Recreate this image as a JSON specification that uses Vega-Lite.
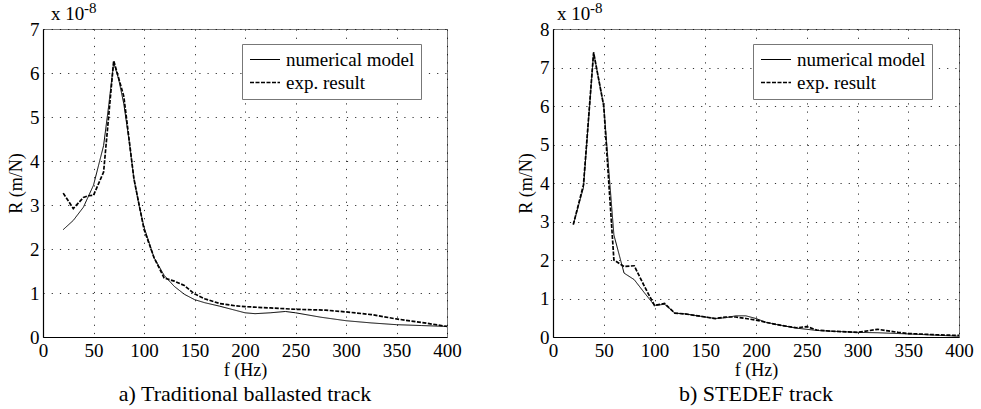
{
  "$schema": "https://vega.github.io/schema/vega-lite/v6.json",
  "background": "white",
  "padding": {"left": 7, "top": 0, "right": 0, "bottom": 0},
  "spacing": 55,
  "config": {
    "font": "Liberation Serif, Times New Roman, serif",
    "view": {"stroke": "#777", "strokeWidth": 1},
    "axis": {
      "labelFont": "Liberation Serif, Times New Roman, serif", "labelFontSize": 19, "labelColor": "black",
      "titleFont": "Liberation Serif, Times New Roman, serif", "titleFontSize": 18, "titleFontWeight": "normal", "titleColor": "black",
      "domainColor": "black", "domainWidth": 1.2,
      "ticks": false, "labelPadding": 4, "labelFlush": false, "labelOverlap": false,
      "grid": true, "gridColor": "black", "gridDash": [1.2, 7], "gridWidth": 1, "gridOpacity": 0.8
    },
    "legend": {
      "orient": "none", "legendY": 15,
      "labelFont": "Liberation Serif, Times New Roman, serif", "labelFontSize": 19, "labelColor": "black",
      "symbolType": "M-1,0H3", "symbolSize": 225, "symbolStrokeColor": "black", "symbolFillColor": "transparent",
      "strokeColor": "#777", "fillColor": "white", "padding": 6, "rowPadding": 3,
      "labelOffset": 19, "title": null
    },
    "title": {"font": "Liberation Serif, Times New Roman, serif", "fontSize": 22, "fontWeight": "normal", "color": "black", "orient": "bottom", "offset": 5}
  },
  "datasets": {
    "a": [
      {"f": 20, "R": 2.44, "series": "numerical model"},
      {"f": 30, "R": 2.65, "series": "numerical model"},
      {"f": 40, "R": 2.95, "series": "numerical model"},
      {"f": 50, "R": 3.45, "series": "numerical model"},
      {"f": 55, "R": 3.9, "series": "numerical model"},
      {"f": 60, "R": 4.35, "series": "numerical model"},
      {"f": 65, "R": 5.25, "series": "numerical model"},
      {"f": 70, "R": 6.24, "series": "numerical model"},
      {"f": 75, "R": 5.85, "series": "numerical model"},
      {"f": 80, "R": 5.3, "series": "numerical model"},
      {"f": 85, "R": 4.5, "series": "numerical model"},
      {"f": 90, "R": 3.6, "series": "numerical model"},
      {"f": 95, "R": 3.0, "series": "numerical model"},
      {"f": 100, "R": 2.5, "series": "numerical model"},
      {"f": 110, "R": 1.8, "series": "numerical model"},
      {"f": 120, "R": 1.4, "series": "numerical model"},
      {"f": 130, "R": 1.15, "series": "numerical model"},
      {"f": 140, "R": 0.97, "series": "numerical model"},
      {"f": 150, "R": 0.85, "series": "numerical model"},
      {"f": 160, "R": 0.78, "series": "numerical model"},
      {"f": 175, "R": 0.7, "series": "numerical model"},
      {"f": 190, "R": 0.61, "series": "numerical model"},
      {"f": 200, "R": 0.55, "series": "numerical model"},
      {"f": 210, "R": 0.53, "series": "numerical model"},
      {"f": 225, "R": 0.55, "series": "numerical model"},
      {"f": 240, "R": 0.58, "series": "numerical model"},
      {"f": 250, "R": 0.55, "series": "numerical model"},
      {"f": 275, "R": 0.45, "series": "numerical model"},
      {"f": 300, "R": 0.37, "series": "numerical model"},
      {"f": 325, "R": 0.32, "series": "numerical model"},
      {"f": 350, "R": 0.28, "series": "numerical model"},
      {"f": 375, "R": 0.26, "series": "numerical model"},
      {"f": 400, "R": 0.24, "series": "numerical model"},
      {"f": 20, "R": 3.27, "series": "exp. result"},
      {"f": 30, "R": 2.92, "series": "exp. result"},
      {"f": 40, "R": 3.17, "series": "exp. result"},
      {"f": 45, "R": 3.21, "series": "exp. result"},
      {"f": 50, "R": 3.22, "series": "exp. result"},
      {"f": 60, "R": 3.75, "series": "exp. result"},
      {"f": 70, "R": 6.28, "series": "exp. result"},
      {"f": 80, "R": 5.47, "series": "exp. result"},
      {"f": 90, "R": 3.6, "series": "exp. result"},
      {"f": 100, "R": 2.45, "series": "exp. result"},
      {"f": 110, "R": 1.8, "series": "exp. result"},
      {"f": 120, "R": 1.34, "series": "exp. result"},
      {"f": 130, "R": 1.27, "series": "exp. result"},
      {"f": 140, "R": 1.17, "series": "exp. result"},
      {"f": 150, "R": 0.98, "series": "exp. result"},
      {"f": 160, "R": 0.87, "series": "exp. result"},
      {"f": 175, "R": 0.76, "series": "exp. result"},
      {"f": 190, "R": 0.71, "series": "exp. result"},
      {"f": 200, "R": 0.69, "series": "exp. result"},
      {"f": 225, "R": 0.66, "series": "exp. result"},
      {"f": 250, "R": 0.63, "series": "exp. result"},
      {"f": 280, "R": 0.61, "series": "exp. result"},
      {"f": 300, "R": 0.57, "series": "exp. result"},
      {"f": 325, "R": 0.51, "series": "exp. result"},
      {"f": 350, "R": 0.41, "series": "exp. result"},
      {"f": 375, "R": 0.33, "series": "exp. result"},
      {"f": 400, "R": 0.24, "series": "exp. result"}
    ],
    "b": [
      {"f": 20, "R": 2.92, "series": "numerical model"},
      {"f": 30, "R": 3.88, "series": "numerical model"},
      {"f": 40, "R": 7.39, "series": "numerical model"},
      {"f": 50, "R": 6.0, "series": "numerical model"},
      {"f": 60, "R": 2.65, "series": "numerical model"},
      {"f": 70, "R": 1.66, "series": "numerical model"},
      {"f": 80, "R": 1.49, "series": "numerical model"},
      {"f": 90, "R": 1.15, "series": "numerical model"},
      {"f": 100, "R": 0.82, "series": "numerical model"},
      {"f": 110, "R": 0.85, "series": "numerical model"},
      {"f": 120, "R": 0.62, "series": "numerical model"},
      {"f": 130, "R": 0.6, "series": "numerical model"},
      {"f": 140, "R": 0.56, "series": "numerical model"},
      {"f": 150, "R": 0.52, "series": "numerical model"},
      {"f": 160, "R": 0.48, "series": "numerical model"},
      {"f": 170, "R": 0.5, "series": "numerical model"},
      {"f": 180, "R": 0.55, "series": "numerical model"},
      {"f": 190, "R": 0.55, "series": "numerical model"},
      {"f": 200, "R": 0.48, "series": "numerical model"},
      {"f": 210, "R": 0.38, "series": "numerical model"},
      {"f": 225, "R": 0.3, "series": "numerical model"},
      {"f": 240, "R": 0.23, "series": "numerical model"},
      {"f": 250, "R": 0.2, "series": "numerical model"},
      {"f": 260, "R": 0.17, "series": "numerical model"},
      {"f": 275, "R": 0.15, "series": "numerical model"},
      {"f": 300, "R": 0.12, "series": "numerical model"},
      {"f": 320, "R": 0.11, "series": "numerical model"},
      {"f": 340, "R": 0.09, "series": "numerical model"},
      {"f": 350, "R": 0.08, "series": "numerical model"},
      {"f": 375, "R": 0.05, "series": "numerical model"},
      {"f": 400, "R": 0.02, "series": "numerical model"},
      {"f": 20, "R": 2.92, "series": "exp. result"},
      {"f": 30, "R": 3.95, "series": "exp. result"},
      {"f": 40, "R": 7.39, "series": "exp. result"},
      {"f": 50, "R": 6.0, "series": "exp. result"},
      {"f": 60, "R": 2.0, "series": "exp. result"},
      {"f": 70, "R": 1.83, "series": "exp. result"},
      {"f": 80, "R": 1.85, "series": "exp. result"},
      {"f": 90, "R": 1.32, "series": "exp. result"},
      {"f": 100, "R": 0.82, "series": "exp. result"},
      {"f": 110, "R": 0.87, "series": "exp. result"},
      {"f": 120, "R": 0.62, "series": "exp. result"},
      {"f": 130, "R": 0.6, "series": "exp. result"},
      {"f": 140, "R": 0.56, "series": "exp. result"},
      {"f": 150, "R": 0.52, "series": "exp. result"},
      {"f": 160, "R": 0.48, "series": "exp. result"},
      {"f": 170, "R": 0.52, "series": "exp. result"},
      {"f": 180, "R": 0.52, "series": "exp. result"},
      {"f": 190, "R": 0.48, "series": "exp. result"},
      {"f": 200, "R": 0.44, "series": "exp. result"},
      {"f": 210, "R": 0.38, "series": "exp. result"},
      {"f": 225, "R": 0.3, "series": "exp. result"},
      {"f": 240, "R": 0.24, "series": "exp. result"},
      {"f": 250, "R": 0.27, "series": "exp. result"},
      {"f": 260, "R": 0.18, "series": "exp. result"},
      {"f": 275, "R": 0.15, "series": "exp. result"},
      {"f": 300, "R": 0.12, "series": "exp. result"},
      {"f": 320, "R": 0.2, "series": "exp. result"},
      {"f": 340, "R": 0.12, "series": "exp. result"},
      {"f": 350, "R": 0.09, "series": "exp. result"},
      {"f": 375, "R": 0.06, "series": "exp. result"},
      {"f": 400, "R": 0.04, "series": "exp. result"}
    ]
  },
  "resolve": {
    "scale": {"x": "independent", "y": "independent", "strokeDash": "independent", "strokeWidth": "independent"},
    "legend": {"strokeDash": "independent", "strokeWidth": "independent"}
  },
  "hconcat": [
    {
      "width": 404, "height": 308,
      "title": {"text": "a) Traditional ballasted track"},
      "encoding": {
        "x": {"type": "quantitative", "scale": {"domain": [0, 400], "nice": false}, "axis": {"values": [0, 50, 100, 150, 200, 250, 300, 350, 400], "title": "f (Hz)", "titlePadding": 1}},
        "y": {"type": "quantitative", "scale": {"domain": [0, 7], "nice": false}, "axis": {"values": [0, 1, 2, 3, 4, 5, 6, 7], "title": "R (m/N)", "titlePadding": 4}}
      },
      "layer": [
        {
          "data": {"name": "a"},
          "mark": {"type": "line", "color": "black"},
          "encoding": {
            "x": {"field": "f"},
            "y": {"field": "R"},
            "detail": {"field": "series"},
            "strokeDash": {"field": "series", "type": "nominal", "scale": {"domain": ["numerical model", "exp. result"], "range": [[1, 0], [4, 1.5]]}, "legend": {"legendX": 199}},
            "strokeWidth": {"field": "series", "type": "nominal", "scale": {"domain": ["numerical model", "exp. result"], "range": [1, 1.7]}, "legend": {"legendX": 199}}
          }
        },
        {
          "data": {"values": [{"label": "x 10", "f": 0, "R": 7}]},
          "mark": {"type": "text", "align": "left", "baseline": "alphabetic", "fontSize": 19, "dx": 8, "dy": -9, "color": "black"},
          "encoding": {"x": {"field": "f"}, "y": {"field": "R"}, "text": {"field": "label"}}
        },
        {
          "data": {"values": [{"label": "-8", "f": 0, "R": 7}]},
          "mark": {"type": "text", "align": "left", "baseline": "alphabetic", "fontSize": 15, "dx": 41, "dy": -16, "color": "black"},
          "encoding": {"x": {"field": "f"}, "y": {"field": "R"}, "text": {"field": "label"}}
        }
      ]
    },
    {
      "width": 406, "height": 308,
      "title": {"text": "b) STEDEF track"},
      "encoding": {
        "x": {"type": "quantitative", "scale": {"domain": [0, 400], "nice": false}, "axis": {"values": [0, 50, 100, 150, 200, 250, 300, 350, 400], "title": "f (Hz)", "titlePadding": 1}},
        "y": {"type": "quantitative", "scale": {"domain": [0, 8], "nice": false}, "axis": {"values": [0, 1, 2, 3, 4, 5, 6, 7, 8], "title": "R (m/N)", "titlePadding": 4}}
      },
      "layer": [
        {
          "data": {"name": "b"},
          "mark": {"type": "line", "color": "black"},
          "encoding": {
            "x": {"field": "f"},
            "y": {"field": "R"},
            "detail": {"field": "series"},
            "strokeDash": {"field": "series", "type": "nominal", "scale": {"domain": ["numerical model", "exp. result"], "range": [[1, 0], [4, 1.5]]}, "legend": {"legendX": 200}},
            "strokeWidth": {"field": "series", "type": "nominal", "scale": {"domain": ["numerical model", "exp. result"], "range": [1, 1.7]}, "legend": {"legendX": 200}}
          }
        },
        {
          "data": {"values": [{"label": "x 10", "f": 0, "R": 8}]},
          "mark": {"type": "text", "align": "left", "baseline": "alphabetic", "fontSize": 19, "dx": 4, "dy": -9, "color": "black"},
          "encoding": {"x": {"field": "f"}, "y": {"field": "R"}, "text": {"field": "label"}}
        },
        {
          "data": {"values": [{"label": "-8", "f": 0, "R": 8}]},
          "mark": {"type": "text", "align": "left", "baseline": "alphabetic", "fontSize": 15, "dx": 37, "dy": -16, "color": "black"},
          "encoding": {"x": {"field": "f"}, "y": {"field": "R"}, "text": {"field": "label"}}
        }
      ]
    }
  ]
}
